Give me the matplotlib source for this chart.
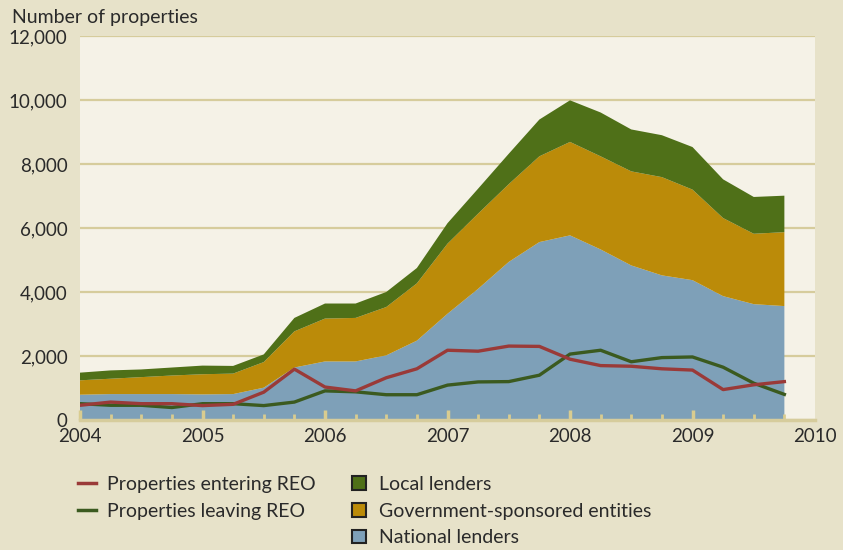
import numpy as np
import matplotlib.pyplot as plt
from matplotlib.lines import Line2D
from matplotlib.patches import Patch

# quarterly, 2004 Q1 .. 2009 Q4
quarters = [2004 + 0.25 * i for i in range(24)]

# stacked area tops (cumulative)
national_top = [790, 810, 810, 810, 800, 810, 1010, 1640, 1830, 1830, 2020, 2480,
                3320, 4100, 4940, 5560, 5770, 5330, 4830, 4520, 4370, 3870, 3620, 3560]
gse_top = [1240, 1290, 1340, 1390, 1430, 1450, 1810, 2770, 3170, 3190, 3530, 4270,
           5510, 6450, 7370, 8240, 8690, 8240, 7770, 7590, 7200, 6310, 5820, 5870]
local_top = [1480, 1550, 1580, 1640, 1700, 1690, 2050, 3190, 3640, 3640, 4000, 4750,
             6150, 7230, 8320, 9390, 9990, 9610, 9080, 8900, 8530, 7520, 6970, 7010]

national = national_top
gse = [g - n for g, n in zip(gse_top, national_top)]
local = [l - g for l, g in zip(local_top, gse_top)]

entering = [460, 560, 510, 510, 450, 490, 870, 1590, 1030, 910, 1320, 1600,
            2180, 2150, 2310, 2300, 1900, 1700, 1680, 1600, 1560, 950, 1100, 1200]
leaving = [510, 460, 460, 390, 510, 510, 450, 560, 910, 880, 790, 790,
           1090, 1190, 1200, 1400, 2060, 2180, 1820, 1950, 1970, 1650, 1150, 800]

years = [2004, 2005, 2006, 2007, 2008, 2009, 2010]
yticks = [0, 2000, 4000, 6000, 8000, 10000, 12000]

c_nat = "#7ea0b8"
c_gse = "#bb8b09"
c_loc = "#4f7018"
c_in = "#9a3a38"
c_out = "#3b5a1f"
c_tan = "#d6cc9c"
c_txt = "#2a2a2a"

plt.rcParams['font.family'] = ['Lato', 'DejaVu Sans']

fig = plt.figure(figsize=(8.43, 5.5), dpi=100)
fig.patch.set_facecolor("#e7e2c9")
ax = fig.add_axes([80 / 843, 1 - 420 / 550, 735 / 843, 384 / 550])
ax.set_facecolor("#f5f2e7")

ax.stackplot(quarters, national, gse, local, colors=[c_nat, c_gse, c_loc], zorder=2)
ax.plot(quarters, leaving, color=c_out, lw=2.4, zorder=4)
ax.plot(quarters, entering, color=c_in, lw=2.4, zorder=4)

ax.set_xlim(2004, 2010)
ax.set_ylim(0, 12000)
ax.set_yticks(yticks)
ax.set_yticklabels(["{:,}".format(v) for v in yticks])
ax.set_xticks(years)
ax.set_xticklabels([str(y) for y in years])
ax.set_xticks([q for q in quarters if q % 1 != 0], minor=True)

ax.grid(axis='y', color=c_tan, lw=1.6)
ax.set_axisbelow(True)
ax.xaxis.set_zorder(5)
for s in ['left', 'right', 'top']:
    ax.spines[s].set_visible(False)
ax.spines['bottom'].set_color(c_tan)
ax.spines['bottom'].set_linewidth(2.5)
ax.spines['bottom'].set_zorder(6)

ax.tick_params(axis='y', length=0, pad=9, labelsize=13.5, colors=c_txt)
ax.tick_params(axis='x', which='major', direction='in', length=7, width=2.5,
               color="#d9cc8f", labelsize=13.5, labelcolor=c_txt, pad=6)
ax.tick_params(axis='x', which='minor', direction='in', length=4, width=2, color="#d9cc8f")
ax.xaxis.get_major_ticks()[-1].tick1line.set_visible(False)

fig.text(12 / 843, 1 - 17 / 550, "Number of properties", fontsize=14, color=c_txt,
         va='center', ha='left')

# two separate legend blocks under the chart
h1 = [Line2D([], [], color=c_in, lw=2.5), Line2D([], [], color=c_out, lw=2.5)]
fig.legend(h1, ["Properties entering REO", "Properties leaving REO"],
           loc='upper left', bbox_to_anchor=(78 / 843, 1 - 476 / 550),
           frameon=False, fontsize=14, borderpad=0, borderaxespad=0,
           handlelength=0.9, handletextpad=0.6,
           labelspacing=0.5, labelcolor=c_txt)
h2 = [Patch(facecolor=c_loc, edgecolor="#222222", lw=1.5),
      Patch(facecolor=c_gse, edgecolor="#222222", lw=1.5),
      Patch(facecolor=c_nat, edgecolor="#222222", lw=1.5)]
fig.legend(h2, ["Local lenders", "Government-sponsored entities", "National lenders"],
           loc='upper left', bbox_to_anchor=(352 / 843, 1 - 476 / 550),
           frameon=False, fontsize=14, borderpad=0, borderaxespad=0,
           handlelength=0.7, handleheight=0.7,
           handletextpad=0.7, labelspacing=0.5, labelcolor=c_txt)

fig.savefig("out.png", dpi=100, facecolor=fig.get_facecolor())
